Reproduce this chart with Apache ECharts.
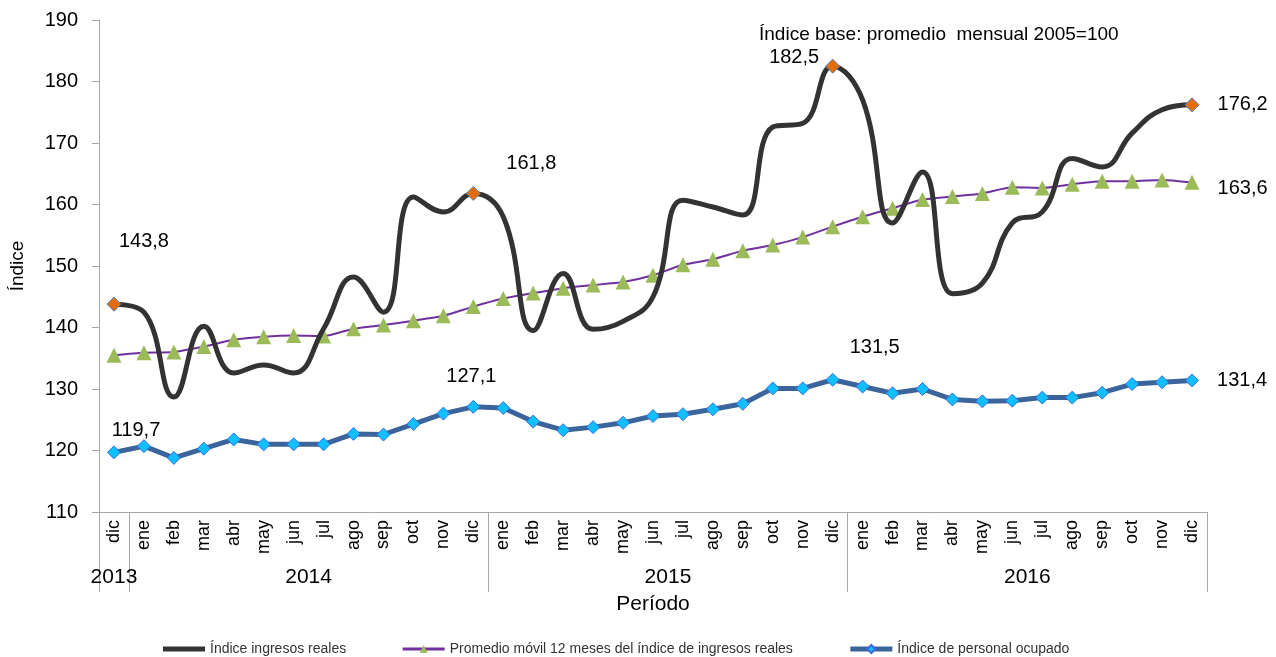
<!DOCTYPE html>
<html>
<head>
<meta charset="utf-8">
<script src="https://cdn.jsdelivr.net/npm/echarts@6/dist/echarts.min.js"></script>
<style>
  html, body { margin: 0; padding: 0; background: #fff; }
  #chart { width: 1276px; height: 657px; }
</style>
</head>
<body>
<div id="chart"></div>
<script>
const years = ['2013', '2014', '2015', '2016'];
const yearMonths = [
  ['dic'],
  ['ene', 'feb', 'mar', 'abr', 'may', 'jun', 'jul', 'ago', 'sep', 'oct', 'nov', 'dic'],
  ['ene', 'feb', 'mar', 'abr', 'may', 'jun', 'jul', 'ago', 'sep', 'oct', 'nov', 'dic'],
  ['ene', 'feb', 'mar', 'abr', 'may', 'jun', 'jul', 'ago', 'sep', 'oct', 'nov', 'dic'],
];
const ingresos = [143.8, 142.5, 128.7, 140.2, 132.6, 133.9, 132.6, 139.8, 148.2, 142.5, 161.2, 158.8, 161.8,
  158.0, 139.5, 148.8, 139.7, 141.0, 145.0, 160.7, 159.6, 158.3, 172.6, 173.2, 182.5,
  177.0, 157.0, 165.3, 145.5, 147.2, 157.0, 158.8, 167.5, 166.1, 171.6, 175.4, 176.2];
const promedio = [135.5, 135.9, 136.0, 136.9, 138.0, 138.5, 138.7, 138.6, 139.8, 140.4, 141.1, 141.9, 143.4,
  144.7, 145.6, 146.4, 146.9, 147.4, 148.5, 150.2, 151.1, 152.5, 153.4, 154.7, 156.4,
  158.0, 159.4, 160.8, 161.3, 161.8, 162.8, 162.7, 163.3, 163.8, 163.8, 164.0, 163.6];
const personal = [119.7, 120.7, 118.8, 120.3, 121.8, 121.0, 121.0, 121.0, 122.7, 122.6, 124.3, 126.0, 127.1,
  126.9, 124.7, 123.3, 123.8, 124.5, 125.6, 125.9, 126.7, 127.6, 130.1, 130.1, 131.5,
  130.4, 129.3, 130.0, 128.3, 128.0, 128.1, 128.6, 128.6, 129.4, 130.8, 131.1, 131.4];
const seriesNames = ['Índice ingresos reales', 'Promedio móvil 12 meses del índice de ingresos reales', 'Índice de personal ocupado'];
const subtitle = 'Índice base: promedio  mensual 2005=100';

const categories = yearMonths.flat();

// year separators and label centres on a 0..n value scale
const yearBounds = [0];
yearMonths.forEach((m) => yearBounds.push(yearBounds[yearBounds.length - 1] + m.length));
const yearCenters = years.map((_, i) => (yearBounds[i] + yearBounds[i + 1]) / 2);

const fmt = (v) => v.toFixed(1).replace('.', ',');
const FONT = 'Liberation Sans, Arial, sans-serif';
const labelBase = { show: true, color: '#000', fontSize: 20, fontFamily: FONT, formatter: (p) => fmt(p.value) };

// label placement for the highlighted points (by index)
const ingresosLabels = {
  0: { position: 'top', offset: [30, -40] },
  12: { position: 'top', offset: [58, -7] },
  24: { position: 'left', distance: 6, offset: [0, -9] },
  36: { position: 'right', distance: 18 },
};
const personalLabels = {
  0: { position: 'top', offset: [22, 0] },
  12: { position: 'top', offset: [-2, -8] },
  24: { position: 'top', offset: [42, -10] },
  36: { position: 'right', distance: 18 },
};
const promedioLabels = {
  36: { position: 'right', distance: 18, offset: [0, 6] },
};

const ingresosData = ingresos.map((v, i) => {
  if (!ingresosLabels[i]) return v;
  return {
    value: v,
    symbol: 'diamond',
    symbolSize: 14,
    itemStyle: { color: '#E46C0A', borderColor: '#4F81BD', borderWidth: 1 },
    label: Object.assign({}, labelBase, ingresosLabels[i]),
  };
});
const promedioData = promedio.map((v, i) => promedioLabels[i]
  ? { value: v, label: Object.assign({}, labelBase, promedioLabels[i]) } : v);
const personalData = personal.map((v, i) => personalLabels[i]
  ? { value: v, label: Object.assign({}, labelBase, personalLabels[i]) } : v);

const chart = echarts.init(document.getElementById('chart'));
chart.setOption({
  backgroundColor: '#fff',
  animation: false,
  textStyle: { fontFamily: FONT },
  title: {
    text: subtitle,
    left: 754,
    top: 20,
    textStyle: { fontSize: 19, fontWeight: 'normal', color: '#000', fontFamily: FONT },
  },
  legend: {
    left: 163,
    top: 642,
    padding: 0,
    itemWidth: 42,
    itemHeight: 10,
    itemGap: 55,
    textStyle: { fontSize: 14, color: '#333', fontFamily: FONT },
    data: [
      { name: seriesNames[0], icon: 'path://M0,0H44V5H0Z' },
      { name: seriesNames[1], lineStyle: { width: 3 } },
      { name: seriesNames[2], lineStyle: { width: 5 } },
    ],
  },
  grid: { left: 97, right: 69, top: 20, bottom: 145, containLabel: false },
  xAxis: [
    {
      type: 'category',
      data: categories,
      boundaryGap: true,
      axisLine: { lineStyle: { color: '#A6A6A6', width: 1 } },
      axisTick: { show: false },
      axisLabel: { rotate: 90, margin: 8, fontSize: 18, color: '#000', interval: 0 },
      splitLine: { show: false },
    },
    {
      type: 'value',
      min: 0,
      max: categories.length,
      position: 'bottom',
      name: 'Período',
      nameLocation: 'middle',
      nameGap: 82,
      nameTextStyle: { fontSize: 21, color: '#000' },
      axisLine: { show: false },
      axisTick: { show: true, customValues: yearBounds, length: 80, lineStyle: { color: '#A6A6A6' } },
      axisLabel: {
        customValues: yearCenters,
        margin: 55,
        fontSize: 21,
        color: '#000',
        formatter: (v) => years[yearCenters.indexOf(v)] || '',
      },
      splitLine: { show: false },
    },
  ],
  yAxis: {
    type: 'value',
    min: 110,
    max: 190,
    interval: 10,
    name: 'Índice',
    nameLocation: 'middle',
    nameGap: 72,
    nameTextStyle: { fontSize: 19, color: '#000' },
    axisLine: { show: true, lineStyle: { color: '#A6A6A6' } },
    axisTick: { show: true, length: 7, lineStyle: { color: '#A6A6A6' } },
    axisLabel: { fontSize: 20, color: '#000', margin: 21 },
    splitLine: { show: false },
  },
  series: [
    {
      name: seriesNames[0],
      type: 'line',
      data: ingresosData,
      smooth: 0.45,
      symbol: 'none',
      itemStyle: { color: '#333333' },
      lineStyle: { color: '#333333', width: 5 },
      z: 3,
    },
    {
      name: seriesNames[1],
      type: 'line',
      data: promedioData,
      smooth: 0.2,
      symbol: 'triangle',
      symbolSize: 15,
      itemStyle: { color: '#9BBB59' },
      lineStyle: { color: '#7030A0', width: 2 },
      z: 2,
    },
    {
      name: seriesNames[2],
      type: 'line',
      data: personalData,
      symbol: 'diamond',
      symbolSize: 13,
      itemStyle: { color: '#10BFFF', borderColor: '#3A6DE0', borderWidth: 1 },
      lineStyle: { color: '#3B659A', width: 5 },
      z: 4,
    },
  ],
});
</script>
</body>
</html>
